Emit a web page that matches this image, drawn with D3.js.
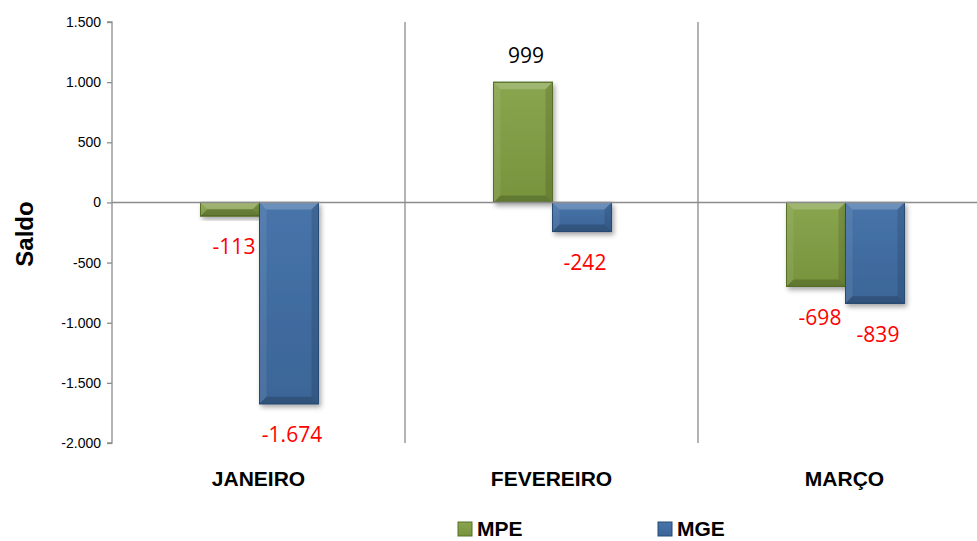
<!DOCTYPE html>
<html lang="pt">
<head>
<meta charset="utf-8">
<title>Saldo MPE x MGE</title>
<script src="https://cdnjs.cloudflare.com/ajax/libs/d3/7.8.5/d3.min.js"></script>
<style>
  body { margin: 0; background: #fff; }
  svg { display: block; font-family: "Liberation Sans", Arial, sans-serif; }
  .tick text { font-size: 14px; fill: #000; }
  .cat { font-size: 21px; font-weight: bold; }
  .lbl { font-size: 21px; font-family: "Open Sans", "Liberation Sans", sans-serif; }
</style>
</head>
<body>
<svg id="chart"></svg>
<script>
var months = ["JANEIRO", "FEVEREIRO", "MARÇO"];
var series = ["MPE", "MGE"];
var mpe = [-113, 999, -698];
var mge = [-1674, -242, -839];
var yTicks = [-2000, -1500, -1000, -500, 0, 500, 1000, 1500];

var w = 977, h = 541;
var padLeft = 112, padTop = 22, padBottom = 443;
var colors = { MPE: ["#89a54e", "#77933c", "#56702a"], MGE: ["#4774aa", "#3b6597", "#274a74"] };

var br = d3.formatLocale({ decimal: ",", thousands: ".", grouping: [3], currency: ["R$", ""], minus: "-" });
var fmt = br.format(",d");

var svg = d3.select("#chart").attr("width", w).attr("height", h);

var x = d3.scaleBand().domain(months).range([padLeft, padLeft + 3 * 293]);
var xs = d3.scaleBand().domain(series).range([x.bandwidth() / 2 - 58, x.bandwidth() / 2 + 60]);
var y = d3.scaleLinear().domain([-2000, 1500]).range([padBottom, padTop]);

var defs = svg.append("defs");
var f = defs.append("filter").attr("id", "shadow").attr("x", "-20%").attr("y", "-20%").attr("width", "150%").attr("height", "150%");
f.append("feDropShadow").attr("dx", 2).attr("dy", 3).attr("stdDeviation", 2.5).attr("flood-color", "#000").attr("flood-opacity", 0.35);

series.forEach(function(s) {
  var g = defs.append("linearGradient").attr("id", "g" + s).attr("x1", 0).attr("x2", 0).attr("y1", 0).attr("y2", 1);
  g.append("stop").attr("offset", "0%").attr("stop-color", colors[s][0]);
  g.append("stop").attr("offset", "100%").attr("stop-color", colors[s][1]);
});

// category separators
svg.append("g").selectAll("line").data(months.slice(1)).enter().append("line")
  .attr("x1", function(d) { return x(d); }).attr("x2", function(d) { return x(d); })
  .attr("y1", padTop).attr("y2", padBottom)
  .attr("stroke", "#8c8c8c").attr("stroke-width", 1.3);

// y axis
var yAxis = svg.append("g").attr("transform", "translate(" + padLeft + ",0)")
  .call(d3.axisLeft(y).tickValues(yTicks).tickSize(5).tickPadding(6).tickFormat(fmt));
yAxis.selectAll("path, line").attr("stroke", "#8c8c8c").attr("stroke-width", 1.3);
yAxis.select(".domain").attr("d", "M-5," + padTop + "H0V" + padBottom + "H-5");
yAxis.selectAll("text").style("font-family", "'Liberation Sans', Arial, sans-serif");

var rows = [];
months.forEach(function(m, i) {
  rows.push({ m: m, s: "MPE", v: mpe[i] });
  rows.push({ m: m, s: "MGE", v: mge[i] });
});

var bars = svg.append("g").selectAll("g").data(rows).enter().append("g")
  .attr("transform", function(d) { return "translate(" + (x(d.m) + xs(d.s)) + "," + y(Math.max(0, d.v)) + ")"; });

bars.each(function(d) {
  var g = d3.select(this);
  var bw = xs.bandwidth(), bh = Math.abs(y(d.v) - y(0));
  var b = Math.min(7, bh / 2, bw / 2);
  g.append("rect").attr("width", bw).attr("height", bh).attr("fill", "url(#g" + d.s + ")")
    .attr("stroke", colors[d.s][2]).attr("stroke-width", 1).attr("filter", "url(#shadow)");
  // bevel edges
  g.append("path").attr("d", "M0,0H" + bw + "L" + (bw - b) + "," + b + "H" + b + "Z").attr("fill", "#fff").attr("opacity", 0.2);
  g.append("path").attr("d", "M0,0L" + b + "," + b + "V" + (bh - b) + "L0," + bh + "Z").attr("fill", "#fff").attr("opacity", 0.08);
  g.append("path").attr("d", "M" + bw + ",0L" + (bw - b) + "," + b + "V" + (bh - b) + "L" + bw + "," + bh + "Z").attr("fill", "#000").attr("opacity", 0.12);
  g.append("path").attr("d", "M0," + bh + "L" + b + "," + (bh - b) + "H" + (bw - b) + "L" + bw + "," + bh + "Z").attr("fill", "#000").attr("opacity", 0.18);
  g.append("rect").attr("width", bw).attr("height", bh).attr("fill", "none").attr("stroke", colors[d.s][2]).attr("stroke-width", 1);
});

// zero line
svg.append("line").attr("x1", padLeft).attr("x2", w).attr("y1", y(0)).attr("y2", y(0))
  .attr("stroke", "#8c8c8c").attr("stroke-width", 1.5);

// data labels
svg.append("g").selectAll("text").data(rows).enter().append("text")
  .attr("class", "lbl")
  .attr("x", function(d) { return x(d.m) + xs(d.s) + xs.bandwidth() / 2 + (d.s === "MPE" && d.v < 0 ? 4 : 3); })
  .attr("y", function(d) { return d.v >= 0 ? y(d.v) - 27 : y(d.v) + 31; })
  .attr("dy", "0.35em")
  .attr("text-anchor", "middle")
  .attr("fill", function(d) { return d.v < 0 ? "#ff0000" : "#000"; })
  .text(function(d) { return fmt(d.v); });

// category labels
svg.append("g").selectAll("text").data(months).enter().append("text")
  .attr("class", "cat")
  .attr("x", function(d) { return x(d) + x.bandwidth() / 2; })
  .attr("y", 486)
  .attr("text-anchor", "middle")
  .text(function(d) { return d; });

// y label
svg.append("text")
  .attr("transform", "translate(33," + 234 + ") rotate(-90)")
  .attr("text-anchor", "middle")
  .attr("font-weight", "bold").style("font-size", "24px")
  .text("Saldo");

// legend
var lg = svg.append("g").selectAll("g").data(series).enter().append("g")
  .attr("transform", function(d, i) { return "translate(" + (458 + i * 200) + ",522)"; });
lg.append("rect").attr("width", 14).attr("height", 14)
  .attr("fill", function(d) { return "url(#g" + d + ")"; })
  .attr("stroke", function(d) { return colors[d][2]; });
lg.append("text").attr("x", 19).attr("y", 14).attr("class", "cat").style("font-size", "21px")
  .text(function(d) { return d; });
</script>
</body>
</html>
